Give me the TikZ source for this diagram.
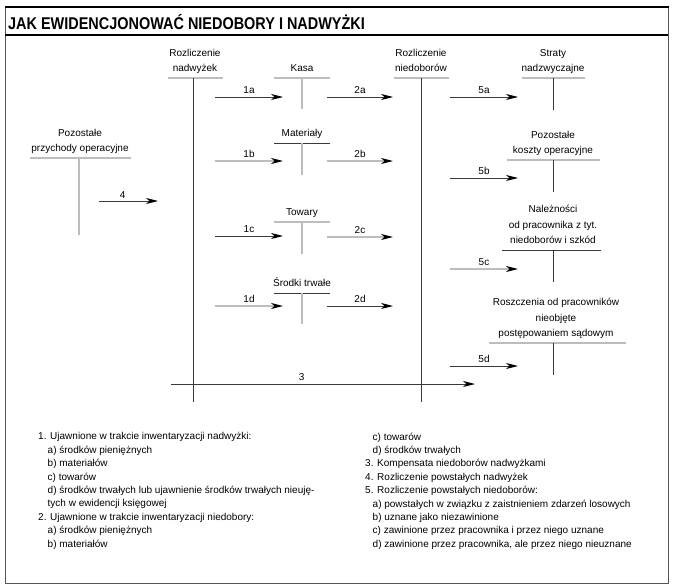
\documentclass[tikz,border=0pt]{standalone}
\usepackage{fontspec}
\setmainfont{Liberation Sans}
\newfontfamily\tytul{Liberation Sans}[FakeStretch=0.85]
\usetikzlibrary{arrows.meta}
\definecolor{ciemny}{HTML}{3A3A3A}
\definecolor{jasny}{HTML}{BDBDBD}
\definecolor{ramka}{HTML}{555555}

\begin{document}
\begin{tikzpicture}[x=1pt, y=-1pt,
	konto/.style={font=\fontsize{10}{15.5}\selectfont, align=center, anchor=south, inner sep=0pt, execute at end node=\strut},
	ciemna/.style={draw=ciemny, line width=0.9pt},
	jasna/.style={draw=jasny, line width=1.3pt},
	strzalka/.style={-{Stealth[length=12pt, width=6pt, inset=3.5pt, color=black]}},
	opis/.style={font=\fontsize{10}{12}\selectfont, above, inner sep=2.5pt},
	legenda/.style={font=\fontsize{10}{13.4}\selectfont, align=left, anchor=north west, inner sep=0pt, execute at begin node=\strut}]
	\useasboundingbox (0,0) rectangle (677,586);
	% ramka i tytul
	\draw[ramka, line width=0.9pt] (5,7) -- (5,583) -- (668,583) -- (668,7);
	\draw[black, line width=2.5pt] (4.5,7) -- (668.5,7);
	\draw[black, line width=1.5pt] (5,35) -- (668,35);
	\node[anchor=base west, inner sep=0pt, font=\tytul\bfseries\fontsize{17}{18}\selectfont] (tytul) at (8,30) {JAK EWIDENCJONOWAĆ NIEDOBORY I NADWYŻKI};
	% konta
	\node[konto] (nadw) at (195,76.5) {Rozliczenie\\nadwyżek};
	\draw[jasna] (168,78) -- (223,78);
	\draw[ciemna] (193,78) -- (193,402);
	\node[konto] (kasa) at (302,76.5) {Kasa};
	\draw[jasna] (274,78) -- (330,78);
	\draw[jasna] (302,78) -- (302,109);
	\node[konto] (mat) at (302,141.5) {Materiały};
	\draw[ciemna] (274,143) -- (330,143);
	\draw[jasna] (302,143) -- (302,175);
	\node[konto] (tow) at (302,220.5) {Towary};
	\draw[jasna] (274,222) -- (330,222);
	\draw[jasna] (302,222) -- (302,254);
	\node[konto] (srt) at (302,291.5) {Środki trwałe};
	\draw[ciemna] (274,293) -- (330,293);
	\draw[jasna] (302,293) -- (302,324);
	\node[konto] (pprz) at (80,156.5) {Pozostałe\\przychody operacyjne};
	\draw[jasna] (30,158) -- (131,158);
	\draw[jasna] (79,158) -- (79,235);
	\node[konto] (niedob) at (421,76.5) {Rozliczenie\\niedoborów};
	\draw[jasna] (394,78) -- (449,78);
	\draw[ciemna] (421,78) -- (421,402);
	\node[konto] (straty) at (553,76.5) {Straty\\nadzwyczajne};
	\draw[jasna] (522,78) -- (585,78);
	\draw[ciemna] (553,78) -- (553,110);
	\node[konto] (pkos) at (553,158.5) {Pozostałe\\koszty operacyjne};
	\draw[jasna] (507,160) -- (600,160);
	\draw[ciemna] (553,160) -- (553,192);
	\node[konto] (nal) at (553,248.5) {Należności\\od pracownika z tyt.\\niedoborów i szkód};
	\draw[ciemna] (502,250) -- (601,250);
	\draw[ciemna] (553,250) -- (553,282);
	\node[konto] (rosz) at (556,341.5) {Roszczenia od pracowników\\nieobjęte\\postępowaniem sądowym};
	\draw[jasna] (489,343) -- (626,343);
	\draw[ciemna] (553,343) -- (553,375);
	% strzalki
	\coordinate (s1a) at (215,97);  \coordinate (k1a) at (283,97);
	\coordinate (s2a) at (327,97);  \coordinate (k2a) at (393,97);
	\coordinate (s5a) at (450,97);  \coordinate (k5a) at (518,97);
	\coordinate (s1b) at (215,161); \coordinate (k1b) at (283,161);
	\coordinate (s2b) at (327,161); \coordinate (k2b) at (393,161);
	\coordinate (s5b) at (450,178); \coordinate (k5b) at (518,178);
	\coordinate (s4)  at (99,201);  \coordinate (k4)  at (158,201);
	\coordinate (s1c) at (215,236); \coordinate (k1c) at (283,236);
	\coordinate (s2c) at (327,237); \coordinate (k2c) at (393,237);
	\coordinate (s5c) at (450,269); \coordinate (k5c) at (518,269);
	\coordinate (s1d) at (215,306); \coordinate (k1d) at (283,306);
	\coordinate (s2d) at (327,306); \coordinate (k2d) at (393,306);
	\coordinate (s5d) at (450,366); \coordinate (k5d) at (518,366);
	\coordinate (s3)  at (171,384); \coordinate (k3)  at (475,384);
	\draw[ciemna, strzalka] (s1a) to node[opis] {1a} (k1a);
	\draw[ciemna, strzalka] (s2a) to node[opis] {2a} (k2a);
	\draw[ciemna, strzalka] (s5a) to node[opis] {5a} (k5a);
	\draw[jasna, strzalka] (s1b) to node[opis] {1b} (k1b);
	\draw[jasna, strzalka] (s2b) to node[opis] {2b} (k2b);
	\draw[ciemna, strzalka] (s5b) to node[opis] {5b} (k5b);
	\draw[ciemna, strzalka] (s4) to node[opis, pos=0.4] {4} (k4);
	\draw[ciemna, strzalka] (s1c) to node[opis] {1c} (k1c);
	\draw[jasna, strzalka] (s2c) to node[opis] {2c} (k2c);
	\draw[jasna, strzalka] (s5c) to node[opis] {5c} (k5c);
	\draw[jasna, strzalka] (s1d) to node[opis] {1d} (k1d);
	\draw[ciemna, strzalka] (s2d) to node[opis] {2d} (k2d);
	\draw[ciemna, strzalka] (s5d) to node[opis] {5d} (k5d);
	\draw[ciemna, strzalka] (s3) to node[opis, pos=0.43] {3} (k3);
	% legenda
	\node[legenda] (legL) at (38,432.5) {1. Ujawnione w trakcie inwentaryzacji nadwyżki:\\
		\hspace*{9.5pt}a) środków pieniężnych\\
		\hspace*{9.5pt}b) materiałów\\
		\hspace*{9.5pt}c) towarów\\
		\hspace*{9.5pt}d) środków trwałych lub ujawnienie środków trwałych nieuję-\\
		\hspace*{9.5pt}tych w ewidencji księgowej\\
		2. Ujawnione w trakcie inwentaryzacji niedobory:\\
		\hspace*{9.5pt}a) środków pieniężnych\\
		\hspace*{9.5pt}b) materiałów};
	\node[legenda] (legP) at (365,432.5) {\hspace*{7.5pt}c) towarów\\
		\hspace*{7.5pt}d) środków trwałych\\
		3. Kompensata niedoborów nadwyżkami\\
		4. Rozliczenie powstałych nadwyżek\\
		5. Rozliczenie powstałych niedoborów:\\
		\hspace*{7.5pt}a) powstałych w związku z zaistnieniem zdarzeń losowych\\
		\hspace*{7.5pt}b) uznane jako niezawinione\\
		\hspace*{7.5pt}c) zawinione przez pracownika i przez niego uznane\\
		\hspace*{7.5pt}d) zawinione przez pracownika, ale przez niego nieuznane};
\end{tikzpicture}
\end{document}
